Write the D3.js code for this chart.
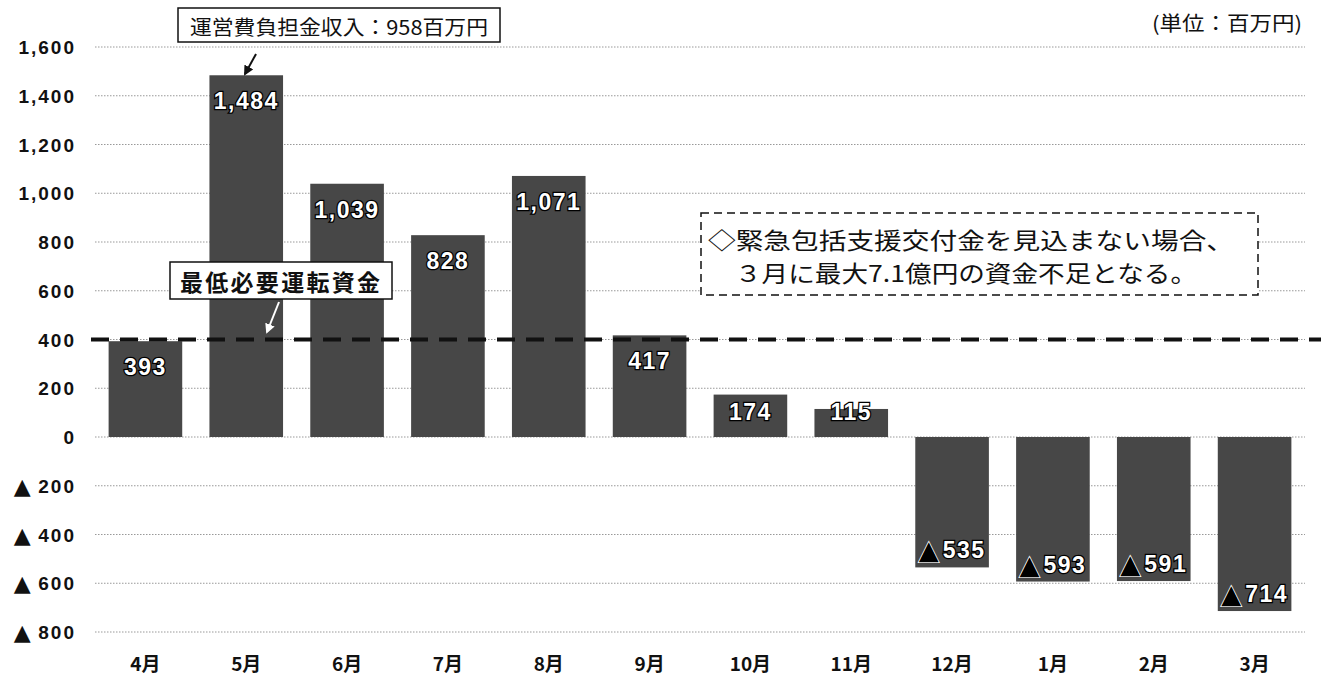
<!DOCTYPE html>
<html lang="ja">
<head>
<meta charset="UTF-8" />
<title>資金推移</title>
<style>
  html, body { margin: 0; padding: 0; background: #fff; }
  svg { display: block; }
  .tick-y { font-family: "Liberation Sans", Arial, sans-serif; font-weight: bold; font-size: 19px; fill: #111; letter-spacing: 2px; }
  .tick-y .tri { font-family: "DejaVu Sans", sans-serif; font-size: 22px; letter-spacing: 0; }
  .tick-x { font-family: "Noto Sans CJK JP", sans-serif; font-weight: bold; font-size: 19px; fill: #111; }
  .grid { stroke: #999; stroke-width: 1; stroke-dasharray: 1.5 1.5; }
  .bar-label { font-family: "Liberation Sans", Arial, sans-serif; font-weight: bold; font-size: 23px; letter-spacing: 1.5px;
               fill: #fff; stroke: #000; stroke-width: 2.5px; paint-order: stroke; text-anchor: middle; dominant-baseline: central; }
  .bar-label .tri { font-family: "DejaVu Sans", sans-serif; font-size: 26px; fill: #000; stroke: #fff; stroke-width: 1.5px; letter-spacing: 0; }
  .jp { font-family: "Noto Sans CJK JP", sans-serif; fill: #111; }
</style>
</head>
<body>
<svg width="1321" height="675"></svg>
<script src="https://d3js.org/d3.v7.min.js"></script>
<script>
  const months = ["4月", "5月", "6月", "7月", "8月", "9月", "10月", "11月", "12月", "1月", "2月", "3月"];
  const balance = [393, 1484, 1039, 828, 1071, 417, 174, 115, -535, -593, -591, -714];
  const yTicks = [1600, 1400, 1200, 1000, 800, 600, 400, 200, 0, -200, -400, -600, -800];
  const minWorkingCapital = 400;

  const svg = d3.select("svg");
  const margin = { left: 95, right: 16, top: 47, bottom: 43 };
  const width = 1321, height = 675;

  const x = d3.scaleBand().domain(months).range([margin.left, width - margin.right]).paddingInner(0.27).paddingOuter(0.135);
  const y = d3.scaleLinear().domain([-800, 1600]).range([height - margin.bottom, margin.top]);

  const fmt = d3.format(",");

  // gridlines
  svg.append("g").selectAll("line").data(yTicks).join("line")
    .attr("class", "grid")
    .attr("x1", margin.left).attr("x2", width - margin.right)
    .attr("y1", d => y(d)).attr("y2", d => y(d));

  // y axis labels (negatives shown with ▲)
  const yt = svg.append("g").selectAll("text").data(yTicks).join("text")
    .attr("class", "tick-y")
    .attr("x", 76).attr("y", d => y(d))
    .attr("text-anchor", "end").attr("dominant-baseline", "central");
  yt.filter(d => d < 0).append("tspan").attr("class", "tri").text("▲ ");
  yt.append("tspan").text(d => fmt(Math.abs(d)));

  // x axis labels
  svg.append("g").selectAll("text").data(months).join("text")
    .attr("class", "tick-x")
    .attr("x", d => x(d) + x.bandwidth() / 2).attr("y", 662)
    .attr("text-anchor", "middle").attr("dominant-baseline", "central")
    .text(d => d);

  // bars
  const data = months.map((m, i) => ({ m, v: balance[i] }));
  svg.append("g").selectAll("rect").data(data).join("rect")
    .attr("x", d => x(d.m)).attr("width", x.bandwidth())
    .attr("y", d => y(Math.max(0, d.v)))
    .attr("height", d => Math.abs(y(d.v) - y(0)))
    .attr("fill", "#474747");

  // min working capital line
  svg.append("line")
    .attr("x1", margin.left - 4).attr("x2", width)
    .attr("y1", y(minWorkingCapital)).attr("y2", y(minWorkingCapital))
    .attr("stroke", "#111").attr("stroke-width", 4).attr("stroke-dasharray", "18 11");

  // bar labels
  const labels = svg.append("g").selectAll("text").data(data).join("text")
    .attr("class", "bar-label")
    .attr("x", d => x(d.m) + x.bandwidth() / 2)
    .attr("y", d => d.v >= 0 ? Math.min(y(d.v) + 26, y(0) - 25) : y(d.v) - 17);
  labels.filter(d => d.v < 0).append("tspan").attr("class", "tri").text("▲");
  labels.append("tspan").attr("dx", d => d.v < 0 ? 4 : 0).text(d => fmt(Math.abs(d.v)));

  // callout: 運営費負担金収入
  svg.append("rect").attr("x", 178).attr("y", 8).attr("width", 322).attr("height", 34)
    .attr("fill", "#fff").attr("stroke", "#111").attr("stroke-width", 1.5);
  svg.append("text").attr("class", "jp").attr("x", 190).attr("y", 26)
    .attr("dominant-baseline", "central").attr("font-size", 20)
    .attr("textLength", 298).attr("lengthAdjust", "spacingAndGlyphs")
    .text("運営費負担金収入：958百万円");

  const defs = svg.append("defs");
  defs.append("marker").attr("id", "arrow").attr("viewBox", "0 -5 10 10")
    .attr("refX", 8).attr("refY", 0).attr("markerWidth", 5).attr("markerHeight", 5).attr("orient", "auto")
    .append("path").attr("d", "M0,-5L10,0L0,5Z").attr("fill", "#111");
  defs.append("marker").attr("id", "arrow-w").attr("viewBox", "0 -5 10 10")
    .attr("refX", 8).attr("refY", 0).attr("markerWidth", 5).attr("markerHeight", 5).attr("orient", "auto")
    .append("path").attr("d", "M0,-5L10,0L0,5Z").attr("fill", "#fff");

  svg.append("line").attr("x1", 256).attr("y1", 54).attr("x2", 245).attr("y2", 74)
    .attr("stroke", "#111").attr("stroke-width", 2).attr("marker-end", "url(#arrow)");

  // callout: 最低必要運転資金
  svg.append("rect").attr("x", 170).attr("y", 262).attr("width", 222).attr("height", 37)
    .attr("fill", "#fff").attr("stroke", "#111").attr("stroke-width", 1.5);
  svg.append("text").attr("class", "jp").attr("x", 180).attr("y", 281)
    .attr("dominant-baseline", "central").attr("font-size", 23).attr("font-weight", "bold")
    .attr("textLength", 200).attr("lengthAdjust", "spacing")
    .text("最低必要運転資金");
  svg.append("line").attr("x1", 279).attr("y1", 302).attr("x2", 267).attr("y2", 332)
    .attr("stroke", "#fff").attr("stroke-width", 2).attr("marker-end", "url(#arrow-w)");

  // dashed note box
  svg.append("rect").attr("x", 701).attr("y", 213).attr("width", 557).attr("height", 82)
    .attr("fill", "#fff").attr("stroke", "#111").attr("stroke-width", 1.5).attr("stroke-dasharray", "8 5");
  svg.append("text").attr("class", "jp").attr("x", 708).attr("y", 239)
    .attr("dominant-baseline", "central").attr("font-size", 23)
    .attr("textLength", 526).attr("lengthAdjust", "spacingAndGlyphs")
    .text("◇緊急包括支援交付金を見込まない場合、");
  svg.append("text").attr("class", "jp").attr("x", 735).attr("y", 272)
    .attr("dominant-baseline", "central").attr("font-size", 23)
    .attr("textLength", 462).attr("lengthAdjust", "spacingAndGlyphs")
    .text("３月に最大7.1億円の資金不足となる。");

  // unit
  svg.append("text").attr("class", "jp").attr("x", 1152).attr("y", 22)
    .attr("dominant-baseline", "central").attr("font-size", 20)
    .attr("textLength", 150).attr("lengthAdjust", "spacingAndGlyphs")
    .text("(単位：百万円)");
</script>
</body>
</html>
